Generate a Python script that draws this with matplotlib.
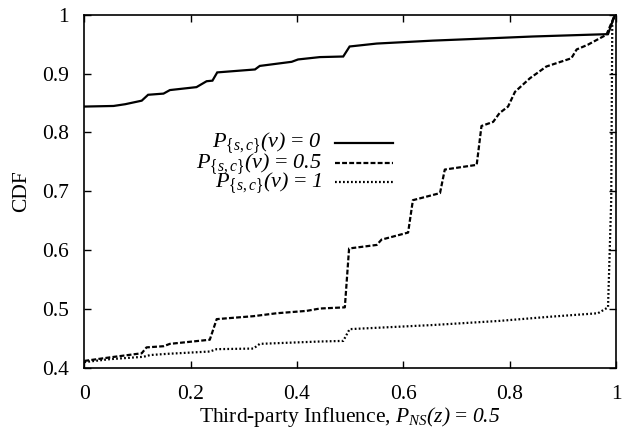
import matplotlib
matplotlib.use("Agg")
import matplotlib.pyplot as plt

plt.rcParams["font.family"] = ["Liberation Serif", "DejaVu Serif"]
plt.rcParams["mathtext.fontset"] = "custom"
plt.rcParams["mathtext.rm"] = "Liberation Serif"
plt.rcParams["mathtext.it"] = "Liberation Serif:italic"
# italic digits/brackets: mathtext forces them upright in \mathit, so borrow \mathsf
plt.rcParams["mathtext.sf"] = "Liberation Serif:italic"

# CDF curves
x_p0 = [0, 0.055, 0.077, 0.108, 0.12, 0.149, 0.161, 0.211, 0.23, 0.241, 0.25,
        0.321, 0.33, 0.39, 0.402, 0.443, 0.487, 0.499, 0.55, 0.656, 0.738,
        0.844, 0.985, 0.998]
y_p0 = [0.844, 0.845, 0.848, 0.854, 0.864, 0.866, 0.872, 0.877, 0.887, 0.888,
        0.902, 0.907, 0.913, 0.92, 0.924, 0.928, 0.929, 0.946, 0.951, 0.956,
        0.959, 0.963, 0.967, 1.0]

x_p05 = [0, 0.048, 0.108, 0.117, 0.149, 0.161, 0.236, 0.249, 0.318, 0.362,
         0.418, 0.443, 0.49, 0.498, 0.55, 0.559, 0.609, 0.618, 0.669, 0.678,
         0.738, 0.747, 0.769, 0.781, 0.797, 0.81, 0.838, 0.869, 0.916, 0.926,
         0.947, 0.982, 0.998]
y_p05 = [0.412, 0.418, 0.425, 0.435, 0.437, 0.441, 0.448, 0.483, 0.488, 0.493,
         0.497, 0.501, 0.503, 0.603, 0.609, 0.618, 0.63, 0.685, 0.697, 0.737,
         0.745, 0.811, 0.818, 0.833, 0.844, 0.869, 0.892, 0.912, 0.926, 0.941,
         0.949, 0.966, 1.0]

x_p1 = [0, 0.048, 0.111, 0.124, 0.155, 0.236, 0.249, 0.318, 0.33, 0.443,
        0.487, 0.499, 0.656, 0.781, 0.875, 0.966, 0.985, 0.991, 0.993, 1.0]
y_p1 = [0.41, 0.415, 0.419, 0.422, 0.424, 0.428, 0.432, 0.433, 0.441, 0.445,
        0.446, 0.466, 0.473, 0.48, 0.487, 0.493, 0.503, 0.685, 0.99, 1.0]

labels = [r"$P_{\{s,c\}}\mathsf{(}v\mathsf{)}$ = $\mathsf{0}$",
          r"$P_{\{s,c\}}\mathsf{(}v\mathsf{)}$ = $\mathsf{0.5}$",
          r"$P_{\{s,c\}}\mathsf{(}v\mathsf{)}$ = $\mathsf{1}$"]

fig = plt.figure(figsize=(6.23, 4.28), dpi=100)
ax = fig.add_axes([84.3 / 623, 1 - 368 / 428, (616 - 84.3) / 623, (368 - 14.7) / 428])

styles = [dict(ls="-", lw=1.6),
          dict(ls=(0, (2.2, 1.0)), lw=1.6),
          dict(ls=(0, (0.8, 1.0)), lw=1.6)]
series = [(x_p0, y_p0), (x_p05, y_p05), (x_p1, y_p1)]
for (xs, ys), st in zip(series, styles):
    ax.plot(xs, ys, color="black", solid_joinstyle="miter", **st)

# gnuplot style key: text right aligned, sample to the right
key_y = [0.637, 0.58, 0.526]
for lab, st, ky in zip(labels, styles, key_y):
    ax.text(0.447, ky, lab, transform=ax.transAxes, ha="right", va="center",
            fontsize=16)
    ax.plot([0.471, 0.58], [ky, ky], transform=ax.transAxes, color="black", **st)

ax.set_xlim(0, 1)
ax.set_ylim(0.4, 1)
ax.set_xticks([0, 0.2, 0.4, 0.6, 0.8, 1])
ax.set_xticklabels(["0", "0.2", "0.4", "0.6", "0.8", "1"])
ax.set_yticks([0.4, 0.5, 0.6, 0.7, 0.8, 0.9, 1])
ax.set_yticklabels(["0.4", "0.5", "0.6", "0.7", "0.8", "0.9", "1"])
ax.tick_params(direction="in", top=True, right=True, length=5, width=1,
               labelsize=15.5)
ax.tick_params(axis="y", pad=11)
ax.tick_params(axis="x", pad=12)
for sp in ax.spines.values():
    sp.set_linewidth(1.2)

ax.set_xlabel(r"Third-party Influence, $P_{NS}\mathsf{(}z\mathsf{)}$ = $\mathsf{0.5}$",
              fontsize=15.5)
ax.xaxis.set_label_coords(0.5, -0.106)
ax.set_ylabel("CDF", fontsize=15.5, labelpad=8)

fig.savefig("out.png", dpi=100)
